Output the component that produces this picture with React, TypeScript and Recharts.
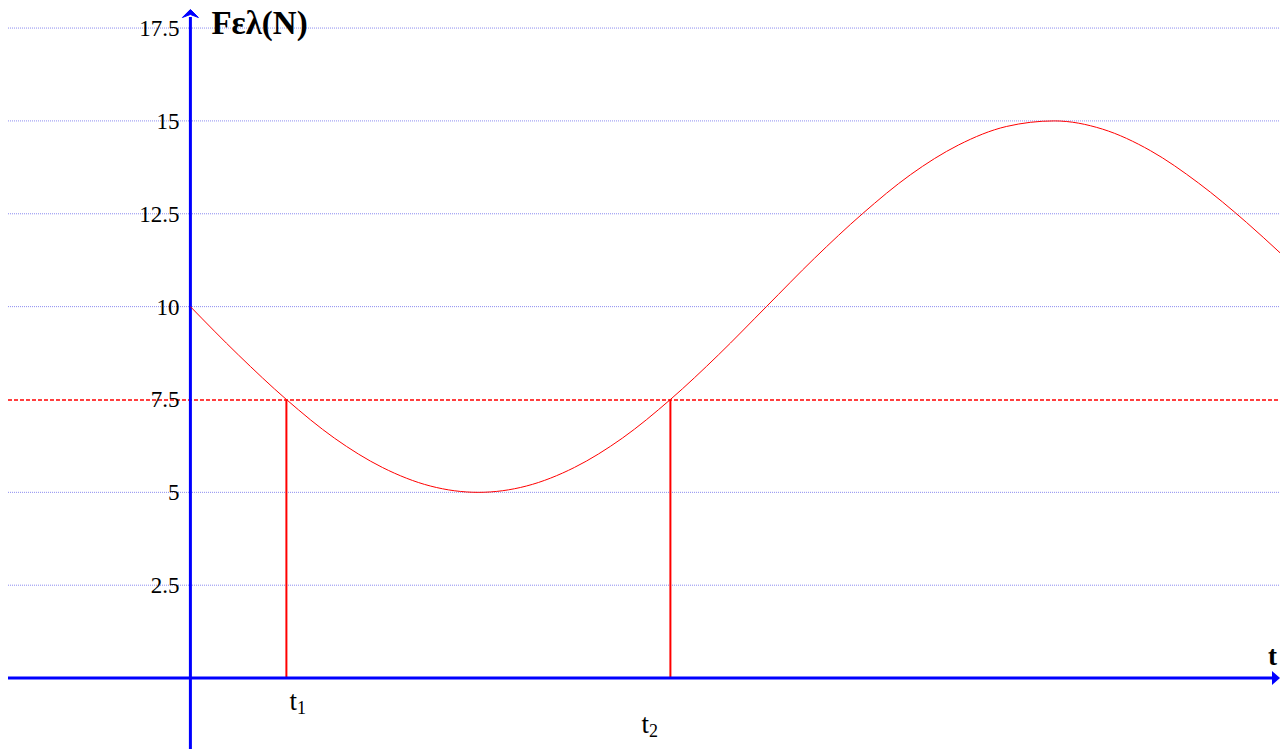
import React from 'react';
import {
  ComposedChart,
  Line,
  XAxis,
  YAxis,
  ReferenceLine,
  ReferenceDot,
} from 'recharts';

// time in arbitrary units (t1 = 1, t2 = 5), force in N
const times = [0, 0.5, 1, 1.5, 2, 2.5, 3, 3.5, 4, 4.5, 5, 5.5, 6, 6.5, 7, 7.5, 8, 8.5, 9, 9.5, 10, 10.5, 11, 11.35];
const force = [10, 8.7, 7.5, 6.46, 5.67, 5.17, 5, 5.17, 5.67, 6.46, 7.5, 8.7, 10, 11.3, 12.5, 13.55, 14.35, 14.85, 15, 14.78, 14.2, 13.33, 12.27, 11.45];
const yTicks = [2.5, 5, 7.5, 10, 12.5, 15, 17.5];
const yTickLabels = ['2.5', '5', '7.5', '10', '12.5', '15', '17.5'];
const marks = [
  { t: 1, sub: '1' },
  { t: 5, sub: '2' },
];
const threshold = 7.5;

const chartData = times.map((t, i) => ({ t, f: force[i] }));

const SERIF = '"Liberation Serif", "Times New Roman", serif';
const BLUE = '#0000ff';
const RED = '#ff0000';

// dashed threshold line, nudged half a pixel so it sits like the original
const DashedRed = (p: any) => (
  <line
    x1={p.x1}
    y1={p.y1 + 0.5}
    x2={p.x2}
    y2={p.y2 + 0.5}
    stroke={RED}
    strokeWidth={1.3}
    strokeDasharray="4 2"
    fill="none"
  />
);

export default function App() {
  return (
    <div
      style={{
        position: 'fixed',
        left: 0,
        top: 0,
        width: 1280,
        height: 749,
        overflow: 'hidden',
        background: '#fff',
        fontFamily: SERIF,
      }}
    >
      <ComposedChart
        width={1280}
        height={749}
        data={chartData}
        margin={{ top: 8, right: 0, bottom: 0, left: 8 }}
      >
        <XAxis dataKey="t" type="number" domain={[-1.9, 11.35]} allowDataOverflow hide />
        <YAxis type="number" domain={[-1.91, 18.04]} allowDataOverflow hide />

        {yTicks
          .filter((v) => v !== threshold)
          .map((v) => (
            <ReferenceLine
              key={'g' + v}
              y={v}
              stroke="#8c8cf0"
              strokeWidth={1}
              strokeDasharray="1 1"
              ifOverflow="visible"
            />
          ))}

        <ReferenceLine y={threshold} shape={DashedRed} ifOverflow="visible" />

        {marks.map((m) => (
          <ReferenceLine
            key={'v' + m.t}
            segment={[{ x: m.t, y: 0 }, { x: m.t, y: threshold }]}
            stroke={RED}
            strokeWidth={2}
          />
        ))}

        <ReferenceLine
          segment={[{ x: 0, y: -1.91 }, { x: 0, y: 17.8 }]}
          stroke={BLUE}
          strokeWidth={3}
          ifOverflow="visible"
        />
        <ReferenceLine
          segment={[{ x: -1.9, y: 0 }, { x: 11.28, y: 0 }]}
          stroke={BLUE}
          strokeWidth={3}
          ifOverflow="visible"
        />

        <Line
          type="monotone"
          dataKey="f"
          stroke={RED}
          strokeWidth={1}
          dot={false}
          isAnimationActive={false}
        />

        {yTicks.map((v, i) => (
          <ReferenceDot
            key={'l' + v}
            x={0}
            y={v}
            ifOverflow="visible"
            shape={(p: any) => (
              <text
                x={p.cx - 11}
                y={p.cy + 8}
                textAnchor="end"
                fontSize={23}
                fontFamily={SERIF}
                fill="#000"
              >
                {yTickLabels[i]}
              </text>
            )}
          />
        ))}

        {marks.map((m, i) => (
          <ReferenceDot
            key={'m' + m.t}
            x={m.t}
            y={0}
            ifOverflow="visible"
            shape={(p: any) => (
              <text
                x={i === 0 ? p.cx + 3 : p.cx - 29}
                y={i === 0 ? p.cy + 32 : p.cy + 55}
                fontSize={27}
                fontFamily={SERIF}
                fill="#000"
              >
                t
                <tspan fontSize={18} dy={4}>
                  {m.sub}
                </tspan>
              </text>
            )}
          />
        ))}

        {/* y axis arrow + label */}
        <ReferenceDot
          x={0}
          y={18}
          ifOverflow="visible"
          shape={(p: any) => (
            <g>
              <path
                d={`M${p.cx},${p.cy} L${p.cx + 8},${p.cy + 8} L${p.cx},${p.cy + 5} L${p.cx - 8},${p.cy + 8} Z`}
                fill={BLUE}
                stroke={BLUE}
                strokeWidth={1}
              />
              <text
                x={p.cx + 21}
                y={p.cy + 25}
                fontSize={33}
                fontWeight="bold"
                fontFamily={SERIF}
                fill="#000"
              >
                Fελ(N)
              </text>
            </g>
          )}
        />

        {/* x axis arrow + label */}
        <ReferenceDot
          x={11.35}
          y={0}
          ifOverflow="visible"
          shape={(p: any) => (
            <g>
              <path
                d={`M${p.cx},${p.cy} L${p.cx - 8},${p.cy - 7} L${p.cx - 8},${p.cy + 7} Z`}
                fill={BLUE}
              />
              <text
                x={p.cx - 3}
                y={p.cy - 13}
                textAnchor="end"
                fontSize={27}
                fontWeight="bold"
                fontFamily={SERIF}
                fill="#000"
              >
                t
              </text>
            </g>
          )}
        />
      </ComposedChart>
    </div>
  );
}
